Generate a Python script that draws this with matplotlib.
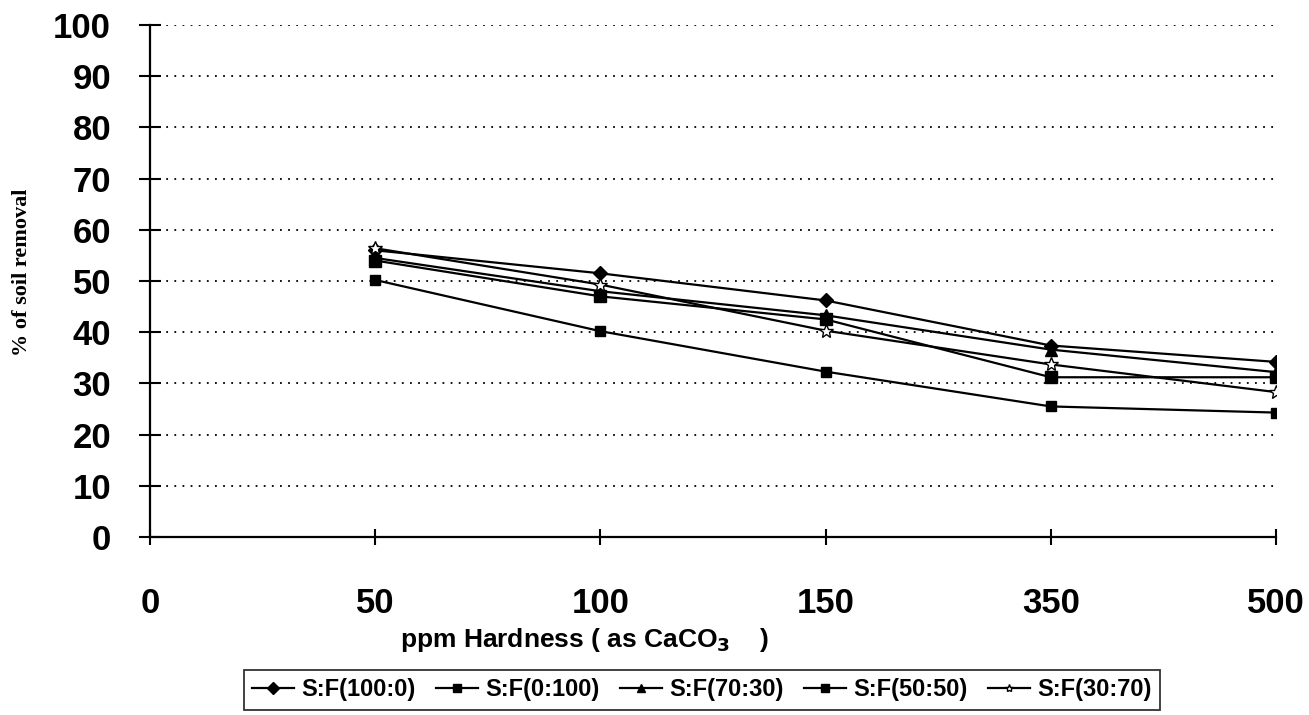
import matplotlib.pyplot as plt
import numpy as np

# categorical x positions (ppm hardness)
x_labels = ["0", "50", "100", "150", "350", "500"]
x_pos = [1, 2, 3, 4, 5]

sf_100_0 = [56.0, 51.5, 46.2, 37.4, 34.2]
sf_0_100 = [54.0, 47.0, 42.5, 31.2, 31.2]
sf_70_30 = [54.5, 48.0, 43.3, 36.6, 32.2]
sf_50_50 = [50.2, 40.2, 32.3, 25.5, 24.3]
sf_30_70 = [56.4, 49.3, 40.3, 33.7, 28.3]

fig = plt.figure(figsize=(13.09, 7.15), dpi=100)
ax = fig.add_axes([150 / 1309, 1 - 537 / 715, (1276 - 150) / 1309, (537 - 25) / 715])

ax.plot(x_pos, sf_100_0, color='black', lw=1.6, marker='D', ms=7, label="S:F(100:0)")
ax.plot(x_pos, sf_0_100, color='black', lw=1.6, marker='s', ms=8, label="S:F(0:100)")
ax.plot(x_pos, sf_70_30, color='black', lw=1.6, marker='^', ms=8, label="S:F(70:30)")
ax.plot(x_pos, sf_50_50, color='black', lw=1.6, marker='s', ms=7, label="S:F(50:50)")
ax.plot(x_pos, sf_30_70, color='black', lw=1.6, marker='*', ms=10,
        markerfacecolor='white', markeredgecolor='black', markeredgewidth=1.0,
        label="S:F(30:70)")

ax.set_xlim(0, 5)
ax.set_ylim(0, 100)
ax.set_xticks(range(len(x_labels)))
ax.set_xticklabels(x_labels)
ax.set_yticks(np.arange(0, 101, 10))

# dotted grid lines
for yv in range(10, 101, 10):
    ax.axhline(yv, color='black', lw=1.3, ls=(0, (1, 3.5)), zorder=0)

for s in ['top', 'right']:
    ax.spines[s].set_visible(False)
ax.spines['left'].set_linewidth(1.6)
ax.spines['bottom'].set_linewidth(1.6)

ax.tick_params(axis='y', direction='inout', length=16, width=1.5, pad=20)
ax.tick_params(axis='x', direction='inout', length=12, width=1.5, pad=30)
for lbl in ax.get_xticklabels() + ax.get_yticklabels():
    lbl.set_fontfamily('Liberation Sans')
    lbl.set_fontweight('bold')
    lbl.set_fontsize(25)

fig.text(400 / 1309, 1 - 640 / 715, r"ppm Hardness ( as CaCO$_{\mathbf{3}}$    )",
         fontfamily='Liberation Sans', fontweight='bold', fontsize=19, va='center')
fig.text(22 / 1309, 1 - 272 / 715, "% of soil removal", rotation=90,
         fontfamily='Liberation Serif', fontweight='bold', fontsize=16,
         va='center', ha='center')

leg = fig.legend(loc='upper center', bbox_to_anchor=(0.536, 1 - 670 / 715), ncol=5,
                 frameon=True, fancybox=False, edgecolor='black', handlelength=1.8,
                 handletextpad=0.3, columnspacing=0.85, borderaxespad=0, borderpad=0.35,
                 prop={'family': 'Liberation Sans', 'weight': 'bold', 'size': 17})
leg.get_frame().set_linewidth(1.3)
for h in leg.legend_handles:
    h.set_markersize(6)

plt.savefig("out.png", dpi=100)
